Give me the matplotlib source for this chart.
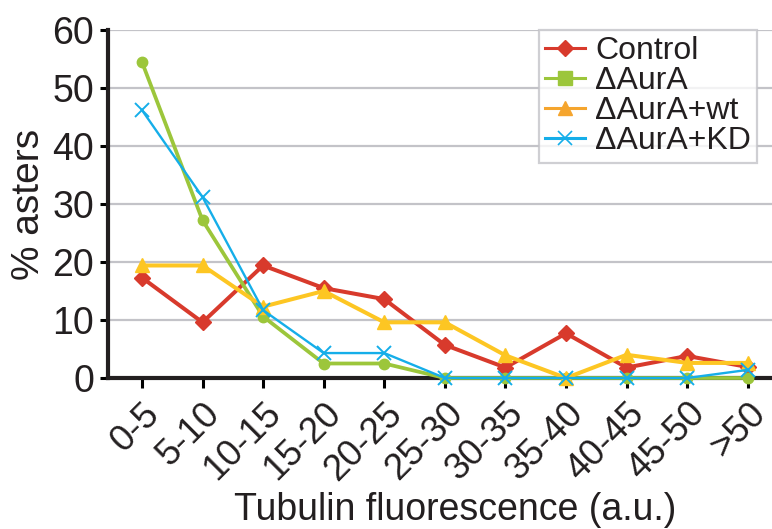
import matplotlib.pyplot as plt
from matplotlib.lines import Line2D

plt.rcParams['font.family'] = ['Liberation Sans', 'DejaVu Sans']

# ==========================================
# Data
# ==========================================
bins = ["0-5", "5-10", "10-15", "15-20", "20-25", "25-30",
        "30-35", "35-40", "40-45", "45-50", ">50"]
control = [17.3, 9.6, 19.4, 15.5, 13.6, 5.7, 1.8, 7.7, 1.8, 3.8, 1.9]
aura = [54.5, 27.2, 10.6, 2.5, 2.5, 0, 0, 0, 0, 0, 0]
aura_wt = [19.4, 19.4, 12.3, 15.0, 9.6, 9.6, 3.9, 0, 4.0, 2.6, 2.6]
aura_kd = [46.2, 31.2, 11.7, 4.3, 4.3, 0, 0, 0, 0, 0, 1.4]

labels = ["Control", "\u0394AurA", "\u0394AurA+wt", "\u0394AurA+KD"]

RED = "#d83a2c"
GREEN = "#9cc63b"
YELLOW = "#fdc623"
ORANGE = "#f5a52e"
BLUE = "#15aee9"
TXT = "#231f20"
GRID = "#c3c3c8"

# ==========================================
# Plot
# ==========================================
fig = plt.figure(figsize=(7.72, 5.29), dpi=100)
ax = fig.add_axes([108 / 772, 1 - 378 / 529, 1 - 108 / 772, (378 - 30) / 529])

x = list(range(len(bins)))

ax.plot(x, control, color=RED, lw=2.9, marker="D", ms=8.5, clip_on=False, zorder=3)
ax.plot(x, aura, color=GREEN, lw=2.7, marker="o", ms=7.5, clip_on=False, zorder=4)
ax.plot(x, aura_wt, color=YELLOW, lw=2.9, marker="^", ms=10, clip_on=False, zorder=5)
ax.plot(x, aura_kd, color=BLUE, lw=1.7, marker="x", ms=9.5, mew=1.4, clip_on=False, zorder=6)

ax.set_ylim(0, 60)
ax.set_xlim(-0.56, 10.4)
ax.set_yticks(range(0, 61, 10))
ax.set_xticks(x)
ax.set_xticklabels(bins, rotation=45, ha="right", va="top",
                   rotation_mode="anchor", fontsize=26.5, color=TXT)
ax.tick_params(axis="y", labelsize=27, labelcolor=TXT, length=6, width=2.2, pad=4)
ax.tick_params(axis="x", length=7, width=2.2, pad=6)

ax.grid(axis="y", color=GRID, lw=1.6)
ax.set_axisbelow(True)
for side in ["top", "right"]:
    ax.spines[side].set_visible(False)
for side in ["left", "bottom"]:
    ax.spines[side].set_linewidth(3)
    ax.spines[side].set_color(TXT)

ax.set_ylabel("% asters", fontsize=28, color=TXT, labelpad=4)
ax.set_xlabel("Tubulin fluorescence (a.u.)", fontsize=27, color=TXT, va="baseline")
ax.xaxis.set_label_coords((455 - 108) / 664, (378 - 520) / 348)

# legend uses its own marker styles (as in the original figure)
handles = [
    Line2D([], [], color=RED, lw=2.2, marker="D", ms=8),
    Line2D([], [], color=GREEN, lw=2.2, marker="s", ms=10),
    Line2D([], [], color=ORANGE, lw=2.2, marker="^", ms=10),
    Line2D([], [], color=BLUE, lw=2.2, marker="x", ms=10, mew=1.2),
]
leg = fig.legend(handles, labels, loc="upper left",
                 bbox_to_anchor=(539 / 772, 1 - 30 / 529),
                 fontsize=23, frameon=True, fancybox=False,
                 handlelength=1.25, handletextpad=0.3, labelspacing=0.0,
                 borderpad=0.2, borderaxespad=0)
leg.get_frame().set_edgecolor(GRID)
leg.get_frame().set_linewidth(1.6)
for t in leg.get_texts():
    t.set_color(TXT)

fig.savefig("out.png", dpi=100)
